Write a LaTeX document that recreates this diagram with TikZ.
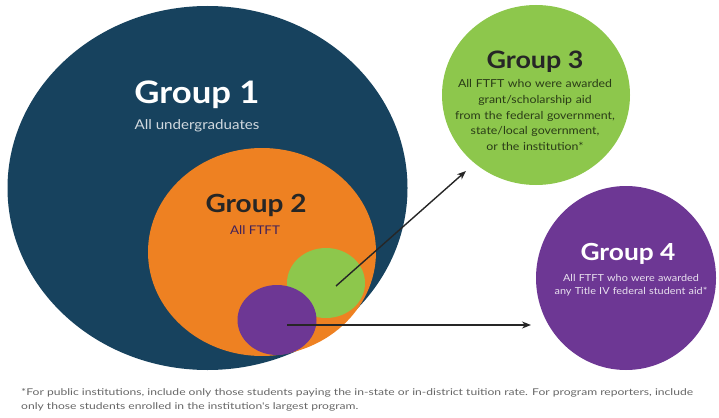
\documentclass[tikz,border=0pt]{standalone}
\usepackage{fontspec}
\setmainfont{Lato}[FakeStretch=1.12]
\newfontfamily\fnfont{Lato}[FakeStretch=1.3]
\usetikzlibrary{shapes.geometric,arrows.meta}
\definecolor{navy}{HTML}{17425E}
\definecolor{orng}{HTML}{EE8122}
\definecolor{lime}{HTML}{8DC74C}
\definecolor{plum}{HTML}{6D3794}
\tikzset{
  blob/.style={ellipse,inner sep=0pt,draw=none},
  title/.style={font=\bfseries\fontsize{#1}{#1}\selectfont},
  sub/.style={font=\fontsize{#1}{#1}\selectfont,align=center},
  arr/.style={-{Stealth[length=9pt,width=7pt]},line width=1.4pt,black!85}
}
\begin{document}
\begin{tikzpicture}[x=1pt,y=-1pt]
\useasboundingbox (0,0) rectangle (719,417);
\node[blob,fill=navy,minimum width=400pt,minimum height=364pt] (g1) at (207.5,188) {};
\node[blob,fill=orng,minimum width=228pt,minimum height=208pt] (g2) at (262,252) {};
\node[blob,fill=lime,minimum width=78pt,minimum height=70pt] (sg) at (326,283) {};
\node[blob,fill=plum,minimum width=79pt,minimum height=70pt] (sp) at (277,320) {};
\node[blob,fill=lime,minimum width=188pt,minimum height=180pt] (g3) at (536,95) {};
\node[blob,fill=plum,minimum width=180pt,minimum height=184pt] (g4) at (626,278) {};

\node[title=31,text=white] (t1) at (197,95) {Group 1};
\node[sub=13.5,text=white!80!navy] (s1) at (197,126) {All undergraduates};
\node[title=25,text=black!85] (t2) at (256,205) {Group 2};
\node[sub=12,text=plum!60!black] (s2) at (255,230) {All FTFT};
\node[title=24,text=black!85] (t3) at (535,62) {Group 3};
\node[font=\fontsize{11}{15.8}\selectfont,align=center,text=black!70!lime,text width=190pt] (s3) at (535,115) {All FTFT who were awarded\\ grant/scholarship aid\\ from the federal government,\\ state/local government,\\ or the institution*};
\node[title=23.5,text=white] (t4) at (628,254) {Group 4};
\node[font=\fontsize{9.7}{13.5}\selectfont,align=center,text=white!85!plum,text width=190pt] (s4) at (631,285.5) {All FTFT who were awarded\\ any Title IV federal student aid*};

\node[font=\fnfont\fontsize{9.3}{14}\selectfont,text=black!60,anchor=west,align=left,inner sep=0pt] (fn) at (21,400) {*For public institutions, include only those students paying the in-state or in-district tuition rate. For program reporters, include\\ only those students enrolled in the institution's largest program.};

\coordinate (a1s) at (336,286);
\coordinate (a1e) at (466,171);
\coordinate (a2s) at (287,325);
\coordinate (a2e) at (531,325);
\draw[arr] (a1s) -- (a1e);
\draw[arr] (a2s) -- (a2e);
\end{tikzpicture}
\end{document}
